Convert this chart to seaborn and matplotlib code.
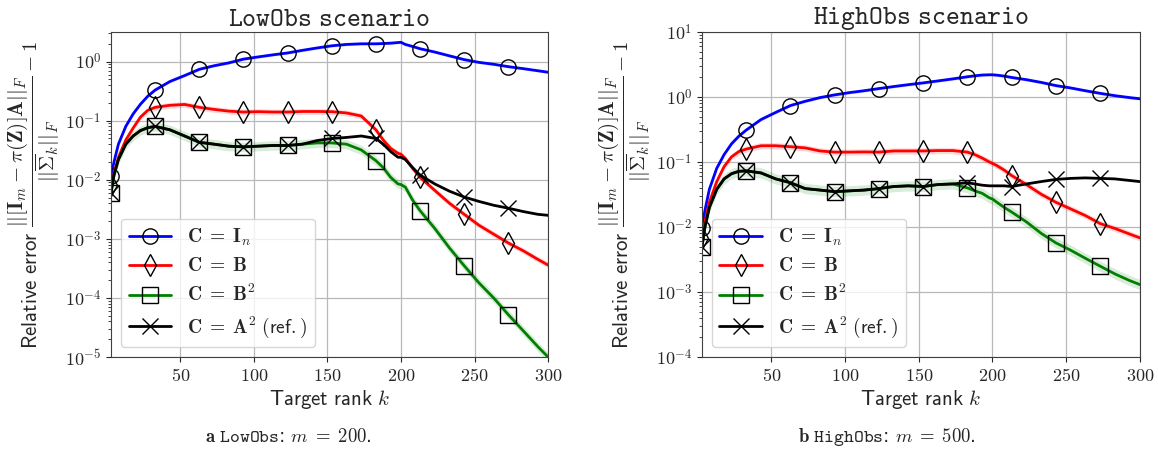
import math
import matplotlib
matplotlib.use("Agg")
import matplotlib.pyplot as plt
import matplotlib.ticker as mticker
import seaborn as sns

# Target rank grid (markers every 30 starting at k=3)
k = [3, 5, 8, 13, 18, 23, 28, 33, 43, 53, 63, 73, 83, 93, 103, 113, 123, 133, 143,
     153, 163, 173, 183, 188, 193, 198, 200, 203, 208, 213, 223, 233, 243, 253,
     263, 273, 283, 293, 300]

# LowObs (m = 200)
low_In = [0.0116, 0.02, 0.04, 0.08, 0.13, 0.19, 0.26, 0.33, 0.46, 0.58, 0.74, 0.85,
          0.95, 1.1, 1.2, 1.3, 1.4, 1.55, 1.7, 1.85, 1.95, 2.0, 2.0, 2.02, 2.05, 2.1,
          2.12, 1.95, 1.8, 1.65, 1.45, 1.25, 1.08, 0.97, 0.9, 0.82, 0.76, 0.7, 0.66]
low_B = [0.008, 0.013, 0.024, 0.047, 0.075, 0.115, 0.15, 0.168, 0.182, 0.188, 0.168,
         0.155, 0.145, 0.14, 0.142, 0.14, 0.14, 0.143, 0.143, 0.142, 0.135, 0.12,
         0.07, 0.047, 0.034, 0.028, 0.027, 0.023, 0.0155, 0.011, 0.0066, 0.004,
         0.0026, 0.0017, 0.0012, 0.00085, 0.00063, 0.00045, 0.00036]
low_B2 = [0.006, 0.012, 0.022, 0.04, 0.055, 0.068, 0.076, 0.08, 0.07, 0.055, 0.043,
          0.04, 0.037, 0.036, 0.037, 0.038, 0.038, 0.04, 0.042, 0.042, 0.04, 0.032,
          0.021, 0.016, 0.011, 0.0085, 0.0083, 0.0075, 0.0045, 0.003, 0.0015, 0.0007,
          0.00035, 0.00018, 0.0001, 5.2e-5, 2.8e-5, 1.5e-5, 1.0e-5]
low_A2 = [0.006, 0.012, 0.022, 0.04, 0.055, 0.068, 0.076, 0.08, 0.07, 0.055, 0.043,
          0.04, 0.037, 0.036, 0.037, 0.038, 0.038, 0.04, 0.046, 0.05, 0.052, 0.055,
          0.05, 0.04, 0.03, 0.024, 0.024, 0.022, 0.016, 0.012, 0.0085, 0.0064, 0.0051,
          0.0043, 0.0037, 0.0033, 0.0029, 0.0026, 0.0025]

# HighObs (m = 500)
high_In = [0.0097, 0.018, 0.038, 0.08, 0.13, 0.19, 0.25, 0.31, 0.45, 0.58, 0.74, 0.86,
           0.98, 1.08, 1.17, 1.25, 1.35, 1.45, 1.55, 1.65, 1.77, 1.9, 2.05, 2.12, 2.18,
           2.2, 2.2, 2.17, 2.1, 2.0, 1.85, 1.68, 1.5, 1.38, 1.25, 1.14, 1.05, 0.98, 0.94]
high_B = [0.0068, 0.012, 0.024, 0.05, 0.085, 0.12, 0.145, 0.158, 0.178, 0.178, 0.172,
          0.165, 0.148, 0.142, 0.142, 0.143, 0.142, 0.148, 0.148, 0.148, 0.15, 0.15,
          0.142, 0.13, 0.115, 0.1, 0.095, 0.088, 0.075, 0.062, 0.045, 0.032, 0.024,
          0.019, 0.015, 0.0113, 0.0095, 0.0078, 0.0068]
high_B2 = [0.005, 0.01, 0.02, 0.038, 0.055, 0.066, 0.072, 0.073, 0.068, 0.055, 0.048,
           0.039, 0.037, 0.035, 0.036, 0.037, 0.039, 0.042, 0.043, 0.042, 0.045, 0.046,
           0.04, 0.036, 0.033, 0.028, 0.027, 0.024, 0.02, 0.017, 0.012, 0.008, 0.0057,
           0.0044, 0.0033, 0.0025, 0.0019, 0.0015, 0.0013]
high_A2 = [0.005, 0.01, 0.02, 0.038, 0.055, 0.066, 0.072, 0.073, 0.068, 0.055, 0.048,
           0.039, 0.037, 0.035, 0.036, 0.037, 0.039, 0.042, 0.043, 0.042, 0.045, 0.046,
           0.048, 0.046, 0.044, 0.043, 0.043, 0.043, 0.043, 0.042, 0.046, 0.05, 0.054,
           0.056, 0.057, 0.056, 0.055, 0.052, 0.05]

labels = [r"$\mathbf{C}\;=\;\mathbf{I}_n$", r"$\mathbf{C}\;=\;\mathbf{B}$",
          r"$\mathbf{C}\;=\;\mathbf{B}^2$",
          r"$\mathbf{C}\;=\;\mathbf{A}^2\ \mathsf{(ref.)}$"]
colors = ["blue", "red", "green", "black"]
markers = ["o", "d", "s", "x"]
spread = [1.05, 1.12, 1.2, 1.0]   # width of the shaded band (relative)

sns.set_style("ticks")
plt.rcParams["mathtext.fontset"] = "cm"
plt.rcParams["font.family"] = ["DejaVu Sans"]

fig = plt.figure(figsize=(11.58, 4.53), dpi=100)
ax1 = fig.add_axes([0.0959, 0.2119, 0.3774, 0.7174])
ax2 = fig.add_axes([0.6062, 0.2119, 0.3782, 0.7174])

mark_idx = [k.index(v) for v in range(3, 300, 30)]

ylab = (r"$\mathsf{Relative\ error}\ "
        r"\dfrac{||[\mathbf{I}_m - \pi(\mathbf{Z})]\mathbf{A}||_F}"
        r"{||\overline{\mathbf{\Sigma}}_k||_F} - 1$")

panels = [
    (ax1, [low_In, low_B, low_B2, low_A2], "LowObs", (1e-5, 10 ** 0.5)),
    (ax2, [high_In, high_B, high_B2, high_A2], "HighObs", (1e-4, 10)),
]

for ax, series, name, ylim in panels:
    for vals, lab, c, m, s in zip(series, labels, colors, markers, spread):
        if s > 1:
            ax.fill_between(k, [v / s for v in vals], [v * s for v in vals],
                            color=c, alpha=0.15, lw=0)
        sns.lineplot(x=k, y=vals, ax=ax, color=c, lw=2, label=lab,
                     marker=m, markevery=mark_idx, markersize=11,
                     markeredgecolor="black", markerfacecolor="none",
                     markeredgewidth=1.0)
    ax.set_yscale("log")
    ax.set_xlim(3, 300)
    ax.set_ylim(*ylim)
    ax.set_xticks([50, 100, 150, 200, 250, 300])
    ax.xaxis.set_major_formatter(mticker.FuncFormatter(lambda v, p: r"$%d$" % v))
    ax.yaxis.set_major_locator(mticker.LogLocator(base=10, numticks=12))
    ax.yaxis.set_major_formatter(
        mticker.FuncFormatter(lambda v, p: r"$10^{%d}$" % round(math.log10(v))))
    ax.tick_params(labelsize=13, colors="0.15")
    ax.grid(True, which="major", color="0.72", lw=0.9)
    for sp in ax.spines.values():
        sp.set_visible(True)
        sp.set_color("0.25")
    ax.set_title(r"$\mathtt{%s\ scenario}$" % name, fontsize=19, pad=4)
    ax.set_xlabel(r"$\mathsf{Target\ rank}\ k$", fontsize=15, labelpad=2)
    ax.set_ylabel(ylab, fontsize=15, labelpad=2)
    ax.legend(loc="lower left", fontsize=14, handlelength=2.2,
              handletextpad=0.8, labelspacing=0.45, borderaxespad=0.5)

fig.text(0.249, 0.025, r"$\mathbf{a}\ \mathtt{LowObs}$: $m\;=\;200$.",
         ha="center", fontsize=13.5)
fig.text(0.766, 0.025, r"$\mathbf{b}\ \mathtt{HighObs}$: $m\;=\;500$.",
         ha="center", fontsize=13.5)

fig.savefig("out.png", dpi=100)
